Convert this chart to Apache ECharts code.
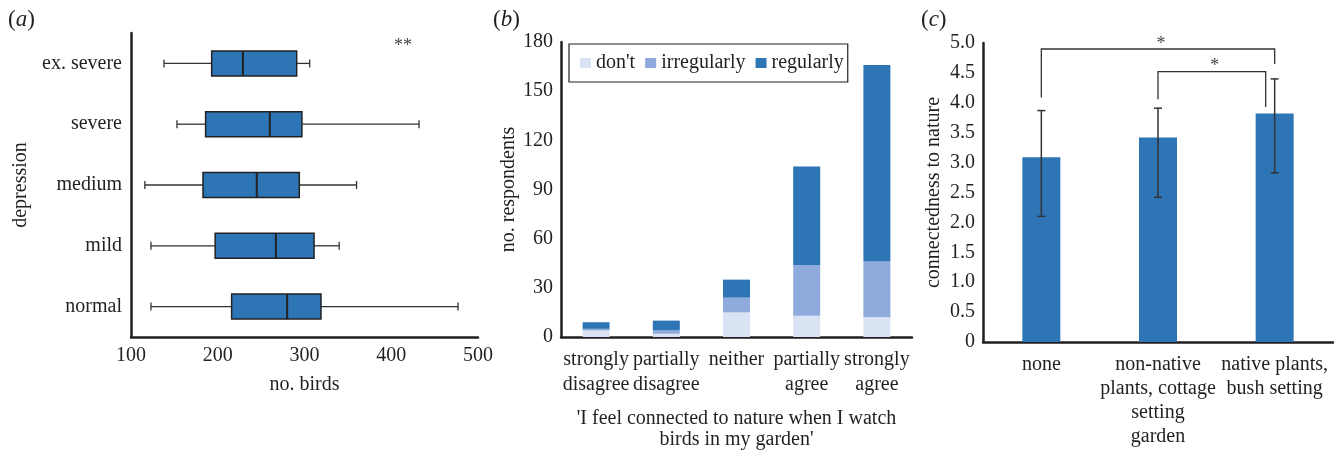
<!DOCTYPE html>
<html>
<head>
<meta charset="utf-8">
<script src="https://cdn.jsdelivr.net/npm/echarts@6/dist/echarts.min.js"></script>
<style>
  html, body { margin: 0; padding: 0; background: #fff; }
  #chart { width: 1343px; height: 455px; }
</style>
</head>
<body>
<div id="chart"></div>
<script>
// (a) no. birds by depression level
const depressionLevels = ['ex. severe', 'severe', 'medium', 'mild', 'normal'];
const birdMin    = [138, 153, 116, 123, 123];
const birdQ1     = [193, 186, 183, 197, 216];
const birdMedian = [229, 260, 245, 267, 280];
const birdQ3     = [291, 297, 294, 311, 319];
const birdMax    = [306, 432, 360, 340, 477];
const birdTicks  = [100, 200, 300, 400, 500];

// (b) respondents by agreement, stacked by how often they watch birds
const agreeLevels = ['strongly\ndisagree', 'partially\ndisagree', 'neither', 'partially\nagree', 'strongly\nagree'];
const watchNames  = ["don't", 'irregularly', 'regularly'];
const dontWatch   = [4, 2, 15, 13, 12];
const irregularly = [1, 2, 9, 31, 34];
const regularly   = [4, 6, 11, 60, 120];
const respondentTicks = [0, 30, 60, 90, 120, 150, 180];

// (c) connectedness to nature by garden type
const gardenTypes   = ['none', 'non-native\nplants, cottage\nsetting\ngarden', 'native plants,\nbush setting'];
const connectedness = [3.09, 3.42, 3.82];
const errLow        = [2.10, 2.42, 2.83];
const errHigh       = [3.87, 3.91, 4.40];
const connectTicks  = [0, 0.5, 1, 1.5, 2, 2.5, 3, 3.5, 4, 4.5, 5];
// significance brackets
const bracketFrom     = [0, 1];
const bracketTo       = [2, 2];
const bracketLeftEnd  = [4.09, 4.06];
const bracketTop      = [4.90, 4.52];
const bracketRightEnd = [4.65, 3.93];
const bracketMark     = ['*', '*'];

const FONT = "'Liberation Serif', 'Times New Roman', serif";
const INK = '#231f20';
const BLUE = '#2e75b6';
const FS = 20;

const axisLine = { show: true, lineStyle: { color: INK, width: 2.5 } };
const labelStyle = { color: INK, fontFamily: FONT, fontSize: FS };
const nameStyle = { color: INK, fontFamily: FONT, fontSize: FS };

function renderBox(params, api) {
  const cat = api.value(0);
  const pMin = api.coord([api.value(1), cat]);
  const pQ1 = api.coord([api.value(2), cat]);
  const pMed = api.coord([api.value(3), cat]);
  const pQ3 = api.coord([api.value(4), cat]);
  const pMax = api.coord([api.value(5), cat]);
  const y = pMed[1];
  const h = 25, cap = 4;
  const ws = { stroke: '#333', lineWidth: 1.3 };
  return {
    type: 'group',
    children: [
      { type: 'line', shape: { x1: pMin[0], y1: y, x2: pQ1[0], y2: y }, style: ws },
      { type: 'line', shape: { x1: pQ3[0], y1: y, x2: pMax[0], y2: y }, style: ws },
      { type: 'line', shape: { x1: pMin[0], y1: y - cap, x2: pMin[0], y2: y + cap }, style: ws },
      { type: 'line', shape: { x1: pMax[0], y1: y - cap, x2: pMax[0], y2: y + cap }, style: ws },
      { type: 'rect', shape: { x: pQ1[0], y: y - h / 2, width: pQ3[0] - pQ1[0], height: h },
        style: { fill: BLUE, stroke: '#222', lineWidth: 1.5 } },
      { type: 'line', shape: { x1: pMed[0], y1: y - h / 2, x2: pMed[0], y2: y + h / 2 },
        style: { stroke: '#222', lineWidth: 2 } }
    ]
  };
}

function renderErr(params, api) {
  const lo = api.coord([api.value(0), api.value(1)]);
  const hi = api.coord([api.value(0), api.value(2)]);
  const cap = 4;
  const st = { stroke: '#333', lineWidth: 1.5 };
  return {
    type: 'group',
    children: [
      { type: 'line', shape: { x1: lo[0], y1: lo[1], x2: hi[0], y2: hi[1] }, style: st },
      { type: 'line', shape: { x1: lo[0] - cap, y1: lo[1], x2: lo[0] + cap, y2: lo[1] }, style: st },
      { type: 'line', shape: { x1: hi[0] - cap, y1: hi[1], x2: hi[0] + cap, y2: hi[1] }, style: st }
    ]
  };
}

// second bracket stops a little left of the bar centre
const bracketRightShift = [0, -9];
function renderBracket(params, api) {
  const i = params.dataIndex;
  const a = api.coord([api.value(0), api.value(2)]);
  const b = api.coord([api.value(0), api.value(3)]);
  const c = api.coord([api.value(1), api.value(3)]);
  const d = api.coord([api.value(1), api.value(4)]);
  const dx = bracketRightShift[i];
  return {
    type: 'group',
    children: [
      { type: 'polyline',
        shape: { points: [a, b, [c[0] + dx, c[1]], [d[0] + dx, d[1]]] },
        style: { stroke: '#333', lineWidth: 1.3, fill: 'none' } },
      { type: 'text',
        style: { text: bracketMark[i], x: (b[0] + c[0] + dx) / 2 + 3, y: b[1] - 5,
          align: 'center', verticalAlign: 'middle',
          font: '18px ' + FONT, fill: '#444' } }
    ]
  };
}

function panelLabel(letter, x) {
  return { type: 'text', x: x, y: 20,
    style: { text: '({it|' + letter + '})', font: '23px ' + FONT, fill: INK, verticalAlign: 'middle',
      rich: { it: { fontStyle: 'italic', fontFamily: FONT, fontSize: 23 } } } };
}

const chart = echarts.init(document.getElementById('chart'));
chart.setOption({
  animation: false,
  backgroundColor: '#fff',
  textStyle: { fontFamily: FONT },
  grid: [
    { left: 131, top: 33, width: 347, height: 304, outerBoundsMode: 'none' },
    { left: 561, top: 42, width: 351, height: 295, outerBoundsMode: 'none' },
    { left: 983, top: 43, width: 350, height: 299, outerBoundsMode: 'none' }
  ],
  xAxis: [
    { gridIndex: 0, type: 'value',
      min: birdTicks[0], max: birdTicks[birdTicks.length - 1], interval: birdTicks[1] - birdTicks[0],
      axisLine, axisTick: { show: false }, splitLine: { show: false },
      axisLabel: Object.assign({ margin: 9 }, labelStyle),
      name: 'no. birds', nameLocation: 'middle', nameGap: 38, nameTextStyle: nameStyle },
    { gridIndex: 1, type: 'category', data: agreeLevels,
      axisLine, axisTick: { show: false },
      axisLabel: Object.assign({ margin: 10, interval: 0, lineHeight: 25 }, labelStyle),
      name: "'I feel connected to nature when I watch\nbirds in my garden'",
      nameLocation: 'middle', nameGap: 71,
      nameTextStyle: Object.assign({ lineHeight: 21, verticalAlign: 'top' }, nameStyle) },
    { gridIndex: 2, type: 'category', data: gardenTypes,
      axisLine, axisTick: { show: false },
      axisLabel: Object.assign({ margin: 11, interval: 0, lineHeight: 24, verticalAlign: 'top' }, labelStyle) }
  ],
  yAxis: [
    { gridIndex: 0, type: 'category', data: depressionLevels, inverse: true,
      axisLine, axisTick: { show: false },
      axisLabel: Object.assign({ margin: 9 }, labelStyle),
      name: 'depression', nameLocation: 'middle', nameGap: 100, nameTextStyle: nameStyle },
    { gridIndex: 1, type: 'value',
      min: respondentTicks[0], max: respondentTicks[respondentTicks.length - 1],
      interval: respondentTicks[1] - respondentTicks[0],
      axisLine, axisTick: { show: false }, splitLine: { show: false },
      axisLabel: Object.assign({ margin: 8 }, labelStyle),
      name: 'no. respondents', nameLocation: 'middle', nameGap: 42, nameTextStyle: nameStyle },
    { gridIndex: 2, type: 'value',
      min: connectTicks[0], max: connectTicks[connectTicks.length - 1],
      interval: connectTicks[1] - connectTicks[0],
      axisLine, axisTick: { show: false }, splitLine: { show: false },
      axisLabel: Object.assign({ margin: 8, formatter: v => v === 0 ? '0' : v.toFixed(1) }, labelStyle),
      name: 'connectedness to nature', nameLocation: 'middle', nameGap: 39, nameTextStyle: nameStyle }
  ],
  legend: {
    left: 569, top: 44, orient: 'horizontal',
    padding: [9, 4, 9, 11], itemGap: 10, itemWidth: 11, itemHeight: 10,
    borderColor: INK, borderWidth: 1.2, icon: 'rect',
    textStyle: { color: INK, fontFamily: FONT, fontSize: FS },
    data: watchNames
  },
  series: [
    { type: 'custom', xAxisIndex: 0, yAxisIndex: 0, renderItem: renderBox,
      encode: { x: [1, 2, 3, 4, 5], y: 0 },
      data: depressionLevels.map((c, i) => [i, birdMin[i], birdQ1[i], birdMedian[i], birdQ3[i], birdMax[i]]) },
    { name: watchNames[0], type: 'bar', stack: 'w', xAxisIndex: 1, yAxisIndex: 1,
      barWidth: 27, itemStyle: { color: '#dae3f3' }, data: dontWatch },
    { name: watchNames[1], type: 'bar', stack: 'w', xAxisIndex: 1, yAxisIndex: 1,
      barWidth: 27, itemStyle: { color: '#8faadc' }, data: irregularly },
    { name: watchNames[2], type: 'bar', stack: 'w', xAxisIndex: 1, yAxisIndex: 1,
      barWidth: 27, itemStyle: { color: BLUE }, data: regularly },
    { type: 'bar', xAxisIndex: 2, yAxisIndex: 2, barWidth: 38,
      itemStyle: { color: BLUE }, data: connectedness },
    { type: 'custom', xAxisIndex: 2, yAxisIndex: 2, renderItem: renderErr, z: 5,
      encode: { x: 0, y: [1, 2] },
      data: gardenTypes.map((g, i) => [i, errLow[i], errHigh[i]]) },
    { type: 'custom', xAxisIndex: 2, yAxisIndex: 2, renderItem: renderBracket, z: 5,
      encode: { x: [0, 1], y: [2, 3, 4] },
      data: bracketFrom.map((f, i) => [f, bracketTo[i], bracketLeftEnd[i], bracketTop[i], bracketRightEnd[i]]) }
  ],
  graphic: [
    panelLabel('a', 8),
    panelLabel('b', 493),
    panelLabel('c', 921),
    { type: 'text', x: 403, y: 46,
      style: { text: '**', font: '18px ' + FONT, fill: '#444', align: 'center', verticalAlign: 'middle' } }
  ]
});
</script>
</body>
</html>
